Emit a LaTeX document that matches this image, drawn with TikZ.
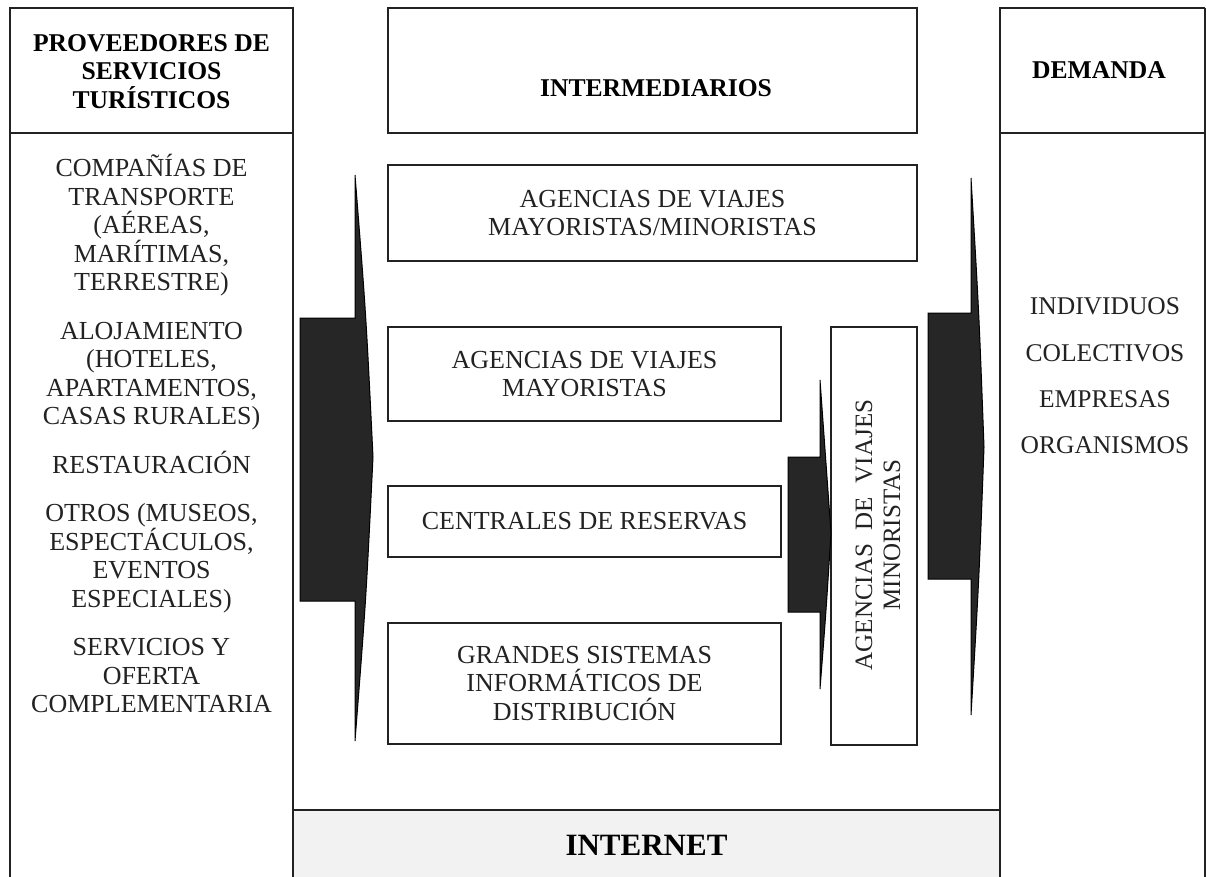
\documentclass[tikz,border=0pt]{standalone}
\usepackage{fontspec}
\setmainfont{Liberation Serif}
\definecolor{linec}{HTML}{222222}
\definecolor{arrowc}{HTML}{262626}
\definecolor{netfill}{HTML}{F2F2F2}
\definecolor{txtc}{HTML}{222222}
\newcommand{\topstrut}{\rule{0pt}{24pt}}
\begin{document}
\begin{tikzpicture}[x=1pt,y=-1pt,
  frame/.style={draw=linec,line width=2.5pt},
  boxstyle/.style={draw=linec,line width=2.2pt,inner sep=0pt,align=center,text=txtc,
    font=\fontsize{26}{28.5}\selectfont},
  headtext/.style={inner sep=0pt,align=center,text=black,font=\bfseries\fontsize{25.6}{28.75}\selectfont},
  listtext/.style={inner sep=0pt,align=center,text=txtc},
  bigarrow/.style={fill=arrowc,draw=black,line width=1pt,line join=miter}]
\useasboundingbox (0,0) rectangle (1206,877);
% internet band
\fill[netfill] (293,810) rectangle (1000,877);
% columns
\draw[frame] (10,877) -- (10,8) -- (293,8) -- (293,877);
\draw[frame] (10,133) -- (293,133);
\draw[frame] (1000,877) -- (1000,8) -- (1205,8);
\draw[draw=linec,line width=1.2pt] (1205,8) -- (1205,877);
\draw[frame] (1000,133) -- (1205,133);
\draw[frame] (293,810) -- (1000,810);
% headers
\node[headtext,anchor=north] (provhead) at (151.5,27)
  {\topstrut PROVEEDORES DE\\SERVICIOS\\TURÍSTICOS};
\node[boxstyle,minimum width=529pt,minimum height=125pt] (interbox) at (652.5,70.5) {};
\node[headtext] (intertext) at (656,88) {INTERMEDIARIOS};
\node[headtext] (demhead) at (1099,70) {DEMANDA};
% left list
\node[listtext,anchor=north,font=\fontsize{26}{28.5}\selectfont] (provlist) at (151.5,152.6)
  {\topstrut COMPAÑÍAS DE\\TRANSPORTE\\(AÉREAS,\\MARÍTIMAS,\\TERRESTRE)\\[20pt]
   ALOJAMIENTO\\(HOTELES,\\APARTAMENTOS,\\CASAS RURALES)\\[20pt]
   RESTAURACIÓN\\[20pt]
   OTROS (MUSEOS,\\ESPECTÁCULOS,\\EVENTOS\\ESPECIALES)\\[20pt]
   SERVICIOS Y\\OFERTA\\COMPLEMENTARIA};
% demand list
\node[listtext,anchor=north,font=\fontsize{25.5}{46.3}\selectfont] (demlist) at (1105,290.6)
  {\topstrut INDIVIDUOS\\COLECTIVOS\\EMPRESAS\\ORGANISMOS};
% middle boxes
\node[boxstyle,minimum width=529pt,minimum height=96pt] (mayomino) at (652.5,213)
  {AGENCIAS DE VIAJES\\MAYORISTAS/MINORISTAS};
\node[boxstyle,minimum width=393pt,minimum height=94pt] (mayo) at (584.5,374)
  {AGENCIAS DE VIAJES\\MAYORISTAS};
\node[boxstyle,minimum width=393pt,minimum height=71pt] (centrales) at (584.5,521.5)
  {CENTRALES DE RESERVAS};
\node[boxstyle,minimum width=393pt,minimum height=121pt] (gsd) at (584.5,683.5)
  {GRANDES SISTEMAS\\INFORMÁTICOS DE\\DISTRIBUCIÓN};
\node[boxstyle,minimum width=86pt,minimum height=418pt] (minobox) at (874,536) {};
\node[listtext,rotate=90,font=\fontsize{25}{28}\selectfont] (minotext) at (878,535)
  {AGENCIAS\hspace{0.3em} DE\hspace{0.3em} VIAJES\\MINORISTAS};
% block arrows
\path[bigarrow] (355,175) -- (355,318) -- (300,318) -- (300,601) -- (355,601) -- (355,741)
  .. controls (366,600) .. (373,457) .. controls (366,314) .. (355,175) -- cycle;
\path[bigarrow] (820,380) -- (820,457) -- (788,457) -- (788,612) -- (820,612) -- (820,689)
  .. controls (826,612) .. (831,533) .. controls (826,456) .. (820,380) -- cycle;
\path[bigarrow] (971,178) -- (971,313) -- (928,313) -- (928,579) -- (971,579) -- (971,715)
  .. controls (979,580) .. (984,447) .. controls (979,313) .. (971,178) -- cycle;
% internet
\node[headtext,font=\bfseries\fontsize{31}{34}\selectfont] (internet) at (646.5,845) {INTERNET};
\end{tikzpicture}
\end{document}
